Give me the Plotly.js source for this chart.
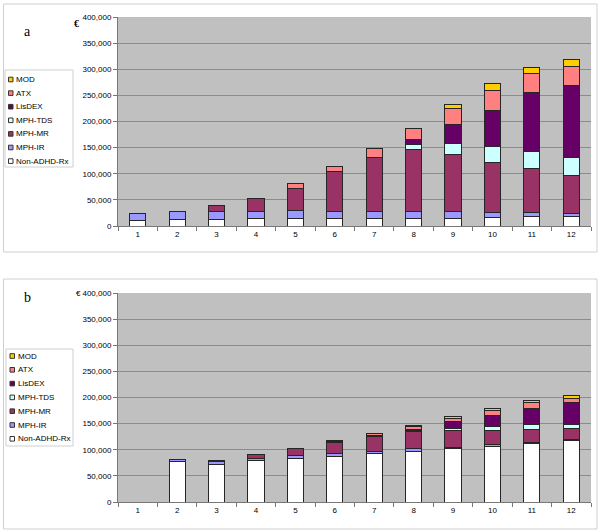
<!DOCTYPE html>
<html><head><meta charset="utf-8">
<script src="https://cdn.plot.ly/plotly-3.0.1.min.js"></script>
<style>html,body{margin:0;padding:0;background:#fff}#chart{width:600px;height:532px}</style>
</head><body><div id="chart"></div>
<script>
// Categories (x labels)
const categories = ['1','2','3','4','5','6','7','8','9','10','11','12'];
// Series names (bottom to top) and colours
const seriesNames = ['Non-ADHD-Rx','MPH-IR','MPH-MR','MPH-TDS','LisDEX','ATX','MOD'];
const seriesColors = ['#FFFFFF','#9999FF','#993366','#CCFFFF','#660066','#FF8080','#FFCC00'];

// Panel a values (€)
const aNonADHD = [11000,11500,11500,13500,13500,14500,14000,15000,15000,17000,18500,18500];
const aMPHIR   = [12000,17000,16500,14500,17000,13000,13500,13000,13000,9000,7500,5500];
const aMPHMR   = [0,0,11000,24000,42000,76000,104000,119000,108000,95000,84000,73000];
const aMPHTDS  = [0,0,0,0,0,0,0,9000,21000,31000,32000,34000];
const aLisDEX  = [0,0,0,0,0,0,0,9000,37000,70000,113000,138000];
const aATX     = [0,0,0,0,8000,11000,16000,22000,31000,38000,37000,37000];
const aMOD     = [0,0,0,0,0,0,0,0,8000,12000,12000,13000];

// Panel b values (€)
const bNonADHD = [0,77000,72000,79000,83000,88000,92000,97000,102000,107000,112000,118500];
const bMPHIR   = [0,5000,5000,5000,6000,4000,5000,5000,3000,3000,2500,1500];
const bMPHMR   = [0,0,3000,6000,14000,21000,28500,33000,32000,27000,24500,21000];
const bMPHTDS  = [0,0,0,0,0,0,0,1000,4000,8000,9000,8000];
const bLisDEX  = [0,0,0,0,0,0,1000,3000,12500,20000,31000,41000];
const bATX     = [0,0,0,0,0,3500,4000,5500,7000,9500,11000,9000];
const bMOD     = [0,0,0,0,0,500,500,1000,2500,5000,4000,4000];

const panelA = [aNonADHD,aMPHIR,aMPHMR,aMPHTDS,aLisDEX,aATX,aMOD];
const panelB = [bNonADHD,bMPHIR,bMPHMR,bMPHTDS,bLisDEX,bATX,bMOD];

const W = 600, H = 532;
const px = x => x / W;
const py = y => 1 - y / H;

const traces = [];
function addPanel(vals, xa, ya) {
  vals.forEach((v, i) => {
    traces.push({
      type: 'bar', x: categories, y: v, name: seriesNames[i],
      xaxis: xa, yaxis: ya, showlegend: false,
      marker: {color: seriesColors[i], line: {color: '#262626', width: 1}},
      hoverinfo: 'x+y+name'
    });
  });
}
addPanel(panelA, 'x', 'y');
addPanel(panelB, 'x2', 'y2');

const font = {family: 'Liberation Sans, Arial, sans-serif', size: 8, color: '#000'};
function xax(anchor, dom) {
  return {domain: dom, anchor: anchor, type: 'category', tickson: 'boundaries',
    ticks: 'outside', ticklen: 4, tickcolor: '#777', showgrid: false,
    showline: true, linecolor: '#777', linewidth: 1, tickfont: font, fixedrange: true};
}
function yax(anchor, dom) {
  return {domain: dom, anchor: anchor, range: [0, 400000], dtick: 50000, tickformat: ',d',
    ticks: 'outside', ticklen: 4, tickcolor: '#777', showgrid: true, gridcolor: '#8c8c8c',
    gridwidth: 1, showline: true, linecolor: '#777', zeroline: false, tickfont: font, fixedrange: true};
}

const xDom = [px(118), px(591)];
const aDom = [py(226), py(17)];
const bDom = [py(502), py(293)];

const shapes = [
  {type: 'rect', xref: 'paper', yref: 'paper', x0: px(3.5), x1: px(597), y0: py(252), y1: py(4), line: {color: '#cfcfcf', width: 1}},
  {type: 'rect', xref: 'paper', yref: 'paper', x0: px(3.5), x1: px(597), y0: py(529), y1: py(279), line: {color: '#cfcfcf', width: 1}}
];
const annotations = [
  {text: 'a', xref: 'paper', yref: 'paper', x: px(21.5), y: py(22), showarrow: false, font: {family: 'Liberation Serif, Times New Roman, serif', size: 14, color: '#000'}},
  {text: 'b', xref: 'paper', yref: 'paper', x: px(21.5), y: py(297), showarrow: false, font: {family: 'Liberation Serif, Times New Roman, serif', size: 14, color: '#000'}},
  {text: '<b>€</b>', xref: 'paper', yref: 'paper', x: px(72), y: py(16), showarrow: false, font: {family: 'Liberation Serif, serif', size: 10, color: '#000'}},
  {text: '€', xref: 'paper', yref: 'paper', x: px(74), y: py(293), showarrow: false, font: {family: 'Liberation Sans, sans-serif', size: 8, color: '#000'}}
];

// Custom legends (top item = last series)
function addLegend(box, firstY, step, sqX, txtX) {
  shapes.push({type: 'rect', xref: 'paper', yref: 'paper', x0: px(box[0]), x1: px(box[1]), y0: py(box[3]), y1: py(box[2]), line: {color: '#cfcfcf', width: 1}, fillcolor: '#fff', layer: 'above'});
  for (let k = 0; k < seriesNames.length; k++) {
    const i = seriesNames.length - 1 - k;
    const yc = firstY + k * step;
    shapes.push({type: 'rect', xref: 'paper', yref: 'paper', x0: px(sqX), x1: px(sqX + 4.5), y0: py(yc + 2.3), y1: py(yc - 2.3), line: {color: '#333', width: 1}, fillcolor: seriesColors[i], layer: 'above'});
    annotations.push({text: seriesNames[i], xref: 'paper', yref: 'paper', x: px(txtX), y: py(yc), xanchor: 'left', yanchor: 'middle', showarrow: false, font: {family: 'Liberation Sans, Arial, sans-serif', size: 8, color: '#000'}});
  }
}
addLegend([5, 73, 70, 167], 79.5, 13.6, 8.5, 14);
addLegend([6, 73, 349, 446], 356, 13.8, 10, 15.5);

const layout = {
  width: W, height: H, margin: {l: 0, r: 0, t: 0, b: 0},
  paper_bgcolor: '#fff', plot_bgcolor: '#C0C0C0',
  barmode: 'stack', bargap: 0.59, font: font,
  xaxis: xax('y', xDom), yaxis: yax('x', aDom),
  xaxis2: xax('y2', xDom), yaxis2: yax('x2', bDom),
  shapes: shapes, annotations: annotations, showlegend: false
};
Plotly.newPlot('chart', traces, layout, {displayModeBar: false, staticPlot: true});
</script></body></html>
